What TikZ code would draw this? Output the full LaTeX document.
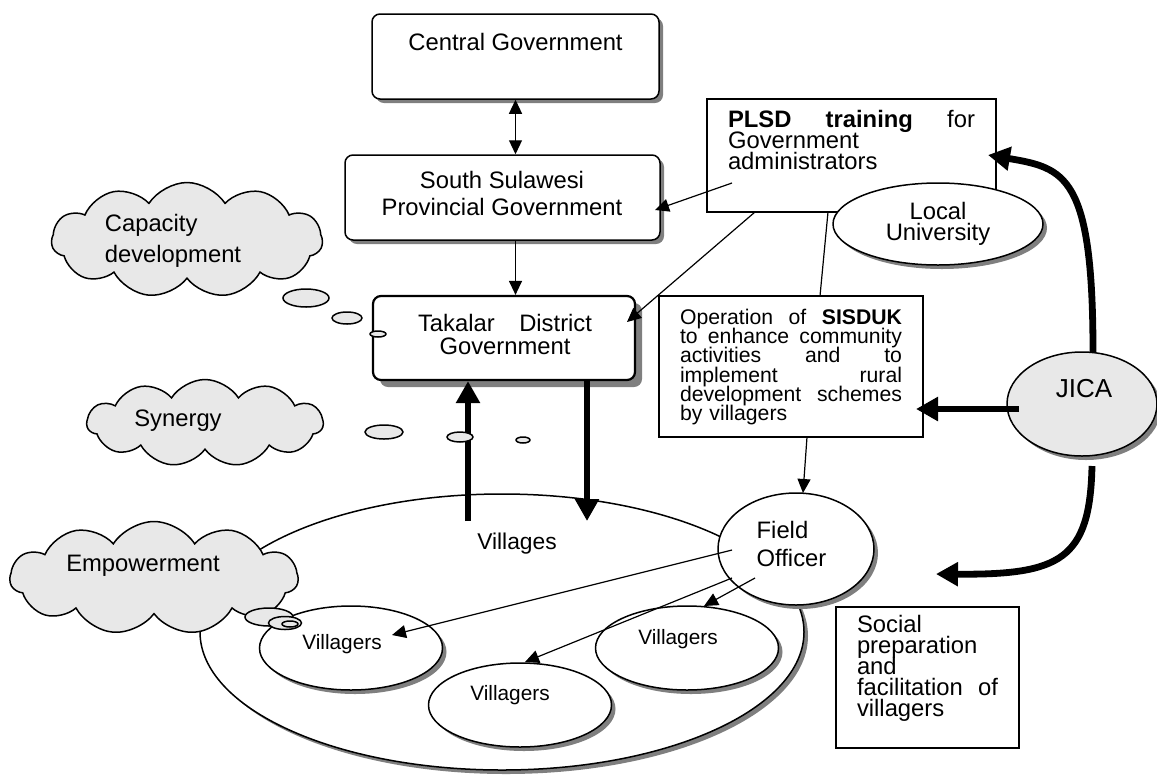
\documentclass[tikz,border=0pt]{standalone}
\usepackage{fontspec}
\setmainfont{Liberation Sans}
\usetikzlibrary{arrows.meta,shapes.geometric,shapes.symbols,shadows}
\definecolor{cloudgray}{HTML}{E8E8E8}
\definecolor{shadowgray}{HTML}{7F7F7F}
\newcommand\fnt[2]{\fontsize{#1}{#2}\selectfont\lineskiplimit=-50pt\lineskip=0pt}
\newcommand\spread[2]{\makebox[#1][l]{\hbox to #1{#2}}}
\begin{document}
\begin{tikzpicture}[x=0.5pt,y=-0.5pt,
 shad/.style={drop shadow={shadow xshift=2pt,shadow yshift=-2pt,opacity=1,fill=shadowgray,draw=none}},
 bigshad/.style={drop shadow={shadow xshift=3.5pt,shadow yshift=-3.5pt,opacity=1,fill=shadowgray,draw=none}},
 rbox/.style={draw,line width=0.75pt,rounded corners=4pt,fill=white,inner sep=0pt},
 sbox/.style={draw,line width=0.65pt,fill=white,inner sep=0pt},
 oval/.style={ellipse,draw,line width=0.75pt,fill=white,inner sep=0pt},
 thought/.style={cloud,cloud puffs=11,cloud puff arc=115,cloud ignores aspect,draw,line width=0.75pt,fill=cloudgray,inner sep=0pt},
 bubble/.style={ellipse,draw,line width=0.75pt,fill=cloudgray,inner sep=0pt},
 lbl/.style={inner sep=0pt,font={\fnt{11.9}{13}}},
 thinarr/.style={line width=0.6pt,-{Triangle[length=7pt,width=6.5pt]}},
 bigarr/.style={line width=3.4pt,-{Triangle[length=11pt,width=11.5pt]}},
 link/.style={line width=0.6pt},
]
\useasboundingbox (0,0) rectangle (1157,778);

% villages area
\node[oval,shad,minimum width=302pt,minimum height=138pt] (vill) at (502,632) {};
\node[oval,shad,minimum width=91.5pt,minimum height=42pt] (v1) at (351,648) {};
\node[oval,shad,minimum width=91.5pt,minimum height=42pt] (v2) at (520,705) {};
\node[oval,shad,minimum width=91.5pt,minimum height=42pt] (v3) at (687,648) {};
\node[lbl,font={\fnt{11.4}{13}}] (villt) at (517,544) {Villages};
\node[lbl,font={\fnt{10.4}{12}}] (v1t) at (342,644) {Villagers};
\node[lbl,font={\fnt{10.4}{12}}] (v2t) at (510,695) {Villagers};
\node[lbl,font={\fnt{10.4}{12}}] (v3t) at (678,639) {Villagers};

% government boxes
\node[rbox,shad,minimum width=143.5pt,minimum height=42.5pt] (cg) at (515.5,56.5) {};
\node[lbl] (cgt) at (515.5,42) {Central Government};
\node[rbox,shad,minimum width=157.5pt,minimum height=42.5pt] (ss) at (502.5,197.5) {};
\node[lbl,align=center,font={\fnt{11.9}{13.5}}] (sst) at (502,193) {South Sulawesi\\Provincial Government};
\node[rbox,bigshad,line width=1.1pt,minimum width=131pt,minimum height=42pt] (tk) at (504,338) {};
\node[lbl,align=center,font={\fnt{11.9}{11.5}}] (tkt) at (505,334) {\spread{87pt}{Takalar\hfill District}\\Government};

% PLSD and university
\node[sbox,minimum width=144.5pt,minimum height=56.5pt] (plsd) at (851.5,155.5) {};
\node[lbl,text width=123.5pt,align=left,font={\fnt{11.9}{10.4}}] (plsdt) at (851.5,140)
 {\spread{123.5pt}{\textbf{PLSD}\hfill\textbf{training}\hfill for}\\Government\\administrators};
\node[oval,shad,minimum width=105pt,minimum height=41pt,align=center,font={\fnt{11.9}{10.5}}] (uni) at (938,224) {Local\\University};

% SISDUK
\node[sbox,minimum width=132pt,minimum height=70.5pt] (sis) at (791,366.5) {};
\node[lbl,text width=111pt,align=left,font={\fnt{10.6}{9.6}}] (sist) at (791,367)
 {\spread{111pt}{Operation\hfill of\hfill \textbf{SISDUK}}\\
  \spread{111pt}{to\hfill enhance\hfill community}\\
  \spread{111pt}{activities\hfill and\hfill to}\\
  \spread{111pt}{implement\hfill rural}\\
  \spread{111pt}{development\hfill schemes}\\
  by villagers};

% social preparation
\node[sbox,minimum width=91.5pt,minimum height=70.5pt] (soc) at (927.5,677.5) {};
\node[lbl,text width=70.5pt,align=left,font={\fnt{11.9}{10.5}}] (soct) at (927.5,668.5)
 {Social\\preparation\\and\\\spread{70.5pt}{facilitation\hfill of}\\villagers};

% field officer and JICA
\node[oval,shad,minimum width=78pt,minimum height=56pt] (fo) at (796,549) {};
\node[lbl,align=left,font={\fnt{11.9}{14}}] (fot) at (791.5,544) {Field\\Officer};
\node[oval,shad,fill=cloudgray,minimum width=75pt,minimum height=52pt] (jica) at (1082,404) {};
\node[lbl,font={\fnt{13}{15}}] (jicat) at (1084,389) {JICA};

% connectors
\draw[link,{Triangle[length=7pt,width=6.5pt]}-{Triangle[length=7pt,width=6.5pt]}] (cg.south) -- (cg.south |- ss.north);
\coordinate (ssA) at (515.5,0);
\draw[thinarr] (ss.south -| ssA) -- (tk.north -| ssA);
\coordinate (p1) at (732,183);
\coordinate (p1e) at (655,210);
\draw[thinarr] (p1) -- (p1e);
\coordinate (p2) at (755,212);
\coordinate (p2e) at (627,322);
\draw[thinarr] (p2) -- (p2e);
\coordinate (p3) at (828,212);
\coordinate (p3e) at (820,296);
\draw[link] (p3) -- (p3e);
\coordinate (s1) at (807,437);
\coordinate (s1e) at (803,493);
\draw[thinarr] (s1) -- (s1e);
\coordinate (f1) at (732,550);
\coordinate (f1e) at (392,635);
\draw[thinarr] (f1) -- (f1e);
\coordinate (f2) at (732,578);
\coordinate (f2e) at (525,662);
\draw[thinarr] (f2) -- (f2e);
\coordinate (f3) at (755,578);
\coordinate (f3e) at (704,606);
\draw[thinarr] (f3) -- (f3e);
\coordinate (tkUp) at (468,521);
\coordinate (tkDn) at (587,521);
\draw[bigarr] (tkUp) -- (tk.south -| tkUp);
\draw[bigarr] (tk.south -| tkDn) -- (tkDn);
\coordinate (jA) at (1019,409);
\coordinate (jAe) at (916,409);
\draw[bigarr] (jA) -- (jAe);
\coordinate (jT) at (1093,352);
\coordinate (jTe) at (988,155);
\draw[bigarr] (jT) .. controls (1093,175) and (1065,168) .. (jTe);
\coordinate (jB) at (1092,466);
\coordinate (jBe) at (936,574);
\draw[bigarr] (jB) .. controls (1090,560) and (1060,575) .. (jBe);

% thought clouds
\node[thought,minimum width=135.5pt,minimum height=57.5pt] (cap) at (187,240) {};
\node[lbl,align=left,font={\fnt{11.9}{15.5}}] (capt) at (173,241) {Capacity\\development};
\node[thought,minimum width=118pt,minimum height=43.5pt] (syn) at (205,423) {};
\node[lbl] (synt) at (178,421) {Synergy};
\node[thought,minimum width=144pt,minimum height=56.5pt] (emp) at (154,578) {};
\node[lbl] (empt) at (143,566) {Empowerment};

% bubbles
\node[bubble,minimum width=23pt,minimum height=9pt] (cb1) at (306,298) {};
\node[bubble,minimum width=15pt,minimum height=6pt] (cb2) at (347,318) {};
\node[bubble,minimum width=8pt,minimum height=3pt] (cb3) at (378,334) {};
\node[bubble,minimum width=19pt,minimum height=7pt] (sb1) at (384,432) {};
\node[bubble,minimum width=13pt,minimum height=5pt] (sb2) at (460,437) {};
\node[bubble,minimum width=7pt,minimum height=3pt] (sb3) at (523,440) {};
\node[bubble,minimum width=24pt,minimum height=9pt] (eb1) at (269,617) {};
\node[bubble,minimum width=16.5pt,minimum height=6.5pt] (eb2) at (285,623) {};
\node[bubble,minimum width=8pt,minimum height=3pt] (eb3) at (290,624) {};
\end{tikzpicture}
\end{document}
